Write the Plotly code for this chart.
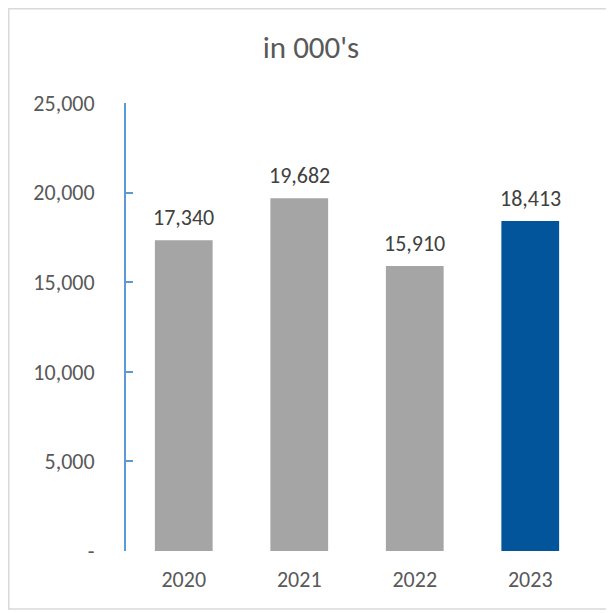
import plotly.graph_objects as go

years = ["2020", "2021", "2022", "2023"]
values = [17340, 19682, 15910, 18413]
bar_colors = ["#A5A5A5", "#A5A5A5", "#A5A5A5", "#02559A"]
tick_vals = [0, 5000, 10000, 15000, 20000, 25000]
tick_text = ["-", "5,000", "10,000", "15,000", "20,000", "25,000"]

font_family = "Carlito, Lato, 'Open Sans', sans-serif"

fig = go.Figure(go.Bar(
    x=years, y=values,
    marker=dict(color=bar_colors, line=dict(width=0)),
    width=0.5,
    cliponaxis=False,
))

# category axis: annotations placed by category index
for i, v in enumerate(values):
    fig.add_annotation(x=i, y=v, text=f"{v:,}", showarrow=False,
                       yanchor="bottom", yshift=7,
                       font=dict(size=22, color="#404040", family=font_family))

fig.update_layout(
    width=606, height=605,
    margin=dict(l=118, r=26, t=95, b=62),
    paper_bgcolor="white", plot_bgcolor="white",
    title=dict(text="in 000's", x=0.5, xanchor="center", y=0.935, yanchor="middle",
               font=dict(size=31, color="#595959", family=font_family)),
    showlegend=False,
    font=dict(family=font_family, color="#595959"),
    bargap=0.5,
)

fig.update_yaxes(
    range=[0, 25000], tickvals=tick_vals, ticktext=tick_text,
    showgrid=False, zeroline=False,
    showline=True, linecolor="#5B9BD5", linewidth=2,
    ticks="inside", ticklen=7, tickcolor="#5B9BD5", tickwidth=2,
    tickfont=dict(size=22, color="#595959"),
    ticklabelstandoff=25,
)
fig.update_xaxes(
    type="category", categoryorder="array", categoryarray=years,
    range=[-0.5, len(years) - 0.5],
    showgrid=False, showline=False, ticks="",
    tickfont=dict(size=22, color="#595959"),
    ticklabelstandoff=13,
)

fig.add_shape(type="rect", xref="paper", yref="paper",
              x0=-0.2538, x1=1.0455, y0=-0.1295, y1=1.2104,
              line=dict(color="#D9D9D9", width=1.5), fillcolor="rgba(0,0,0,0)",
              layer="below")

fig.write_html("out.html")
